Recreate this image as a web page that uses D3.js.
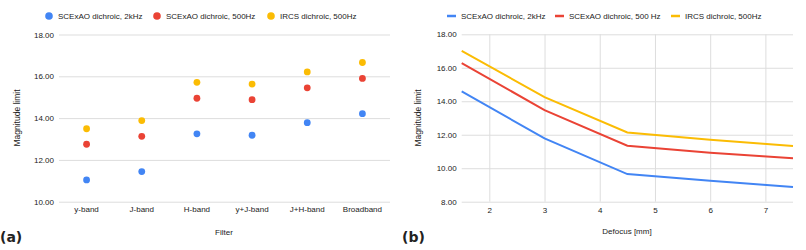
<!DOCTYPE html>
<html>
<head>
<meta charset="utf-8">
<script src="https://cdn.jsdelivr.net/npm/d3@7"></script>
<style>
  body { margin: 0; background: #fff; }
  svg text { font-family: "Liberation Sans", Arial, sans-serif; fill: #222; }
  .grid line { stroke: #ddd; }
  .grid path { display: none; }
</style>
</head>
<body>
<div id="container"></div>
<script>
// chart (a) data
let filters = ["y-band", "J-band", "H-band", "y+J-band", "J+H-band", "Broadband"];
let sc2k = [11.04, 11.44, 13.25, 13.18, 13.78, 14.21];
let sc500 = [12.75, 13.13, 14.95, 14.88, 15.45, 15.90];
let ircs500 = [13.49, 13.88, 15.71, 15.63, 16.21, 16.66];
let ticksA = [10, 12, 14, 16, 18];

// chart (b) data
let defocus = [1.5, 3, 4.5, 6, 7.5];
let line2k = [14.59, 11.78, 9.65, 9.25, 8.88];
let line500 = [16.28, 13.47, 11.34, 10.93, 10.59];
let lineIrcs = [17.01, 14.25, 12.14, 11.70, 11.33];
let ticksB = [8, 10, 12, 14, 16, 18];
let ticksBx = [2, 3, 4, 5, 6, 7];

let colors = ["#4285F4", "#EA4335", "#FBBC04"];
let namesA = ["SCExAO dichroic, 2kHz", "SCExAO dichroic, 500Hz", "IRCS dichroic, 500Hz"];
let namesB = ["SCExAO dichroic, 2kHz", "SCExAO dichroic, 500 Hz", "IRCS dichroic, 500Hz"];

let svg = d3.select("#container")
  .append("svg")
  .attr("width", 806)
  .attr("height", 250);

let fmt = d3.format(".2f");

//----- chart (a)
let xA = d3.scaleBand().domain(filters).range([59, 390]);
let yA = d3.scaleLinear().domain([10, 18]).range([201.7, 34.5]);

let gA = svg.append("g");
gA.append("g")
  .attr("class", "grid")
  .attr("transform", "translate(59,0)")
  .call(d3.axisLeft(yA).tickValues(ticksA).tickSize(-331).tickPadding(5).tickFormat(fmt))
  .call(g => g.selectAll("text").attr("font-size", 8).attr("dy", "0.32em"));

gA.append("g")
  .attr("transform", "translate(0,201.7)")
  .call(d3.axisBottom(xA).tickSize(0).tickPadding(5))
  .call(g => g.select(".domain").remove())
  .call(g => g.selectAll("text").attr("font-size", 8).attr("dy", "0.71em"));

[sc2k, sc500, ircs500].forEach((arr, s) => {
  gA.selectAll(".dot" + s)
    .data(arr)
    .enter()
    .append("circle")
    .attr("cx", (d, i) => xA(filters[i]) + xA.bandwidth() / 2)
    .attr("cy", d => yA(d))
    .attr("r", 3.4)
    .attr("fill", colors[s]);
});

let legA = [49, 157, 271];
namesA.forEach((n, i) => {
  gA.append("circle").attr("cx", legA[i]).attr("cy", 16).attr("r", 3.8).attr("fill", colors[i]);
  gA.append("text").attr("x", legA[i] + 9).attr("y", 19).attr("font-size", 8).text(n);
});

gA.append("text").attr("x", 224).attr("y", 235).attr("text-anchor", "middle").attr("font-size", 8).text("Filter");
gA.append("text")
  .attr("transform", "translate(20,118) rotate(-90)")
  .attr("text-anchor", "middle").attr("font-size", 8.5).text("Magnitude limit");
gA.append("text").attr("x", 0).attr("y", 242)
  .style("font-family", "'DejaVu Sans', Verdana, sans-serif")
  .attr("font-weight", "bold").attr("font-size", 14).attr("fill", "#000").text("(a)");

//----- chart (b)
let xB = d3.scaleLinear().domain([1.5, 7.5]).range([461.7, 793]);
let yB = d3.scaleLinear().domain([8, 18]).range([201.7, 34.3]);

let gB = svg.append("g");
gB.append("g")
  .attr("class", "grid")
  .attr("transform", "translate(461.7,0)")
  .call(d3.axisLeft(yB).tickValues(ticksB).tickSize(-331.3).tickPadding(5).tickFormat(fmt))
  .call(g => g.selectAll("text").attr("font-size", 8).attr("dy", "0.32em"));

gB.append("g")
  .attr("class", "grid")
  .attr("transform", "translate(0,201.7)")
  .call(d3.axisBottom(xB).tickValues(ticksBx).tickSize(-167.4).tickPadding(6).tickFormat(d3.format("d")))
  .call(g => g.selectAll("text").attr("font-size", 8).attr("dy", "0.71em"));

let line = d3.line()
  .x((d, i) => xB(defocus[i]))
  .y(d => yB(d));

[line2k, line500, lineIrcs].forEach((arr, s) => {
  gB.append("path")
    .datum(arr)
    .attr("d", line)
    .attr("fill", "none")
    .attr("stroke", colors[s])
    .attr("stroke-width", 2);
});

let legB = [447, 555, 671];
namesB.forEach((n, i) => {
  gB.append("line").attr("x1", legB[i]).attr("x2", legB[i] + 9)
    .attr("y1", 16).attr("y2", 16).attr("stroke", colors[i]).attr("stroke-width", 2.5);
  gB.append("text").attr("x", legB[i] + 14).attr("y", 19).attr("font-size", 8).text(n);
});

gB.append("text").attr("x", 627).attr("y", 234).attr("text-anchor", "middle").attr("font-size", 8).text("Defocus [mm]");
gB.append("text")
  .attr("transform", "translate(421,118) rotate(-90)")
  .attr("text-anchor", "middle").attr("font-size", 8.5).text("Magnitude limit");
gB.append("text").attr("x", 402).attr("y", 242)
  .style("font-family", "'DejaVu Sans', Verdana, sans-serif")
  .attr("font-weight", "bold").attr("font-size", 14).attr("fill", "#000").text("(b)");
</script>
</body>
</html>
